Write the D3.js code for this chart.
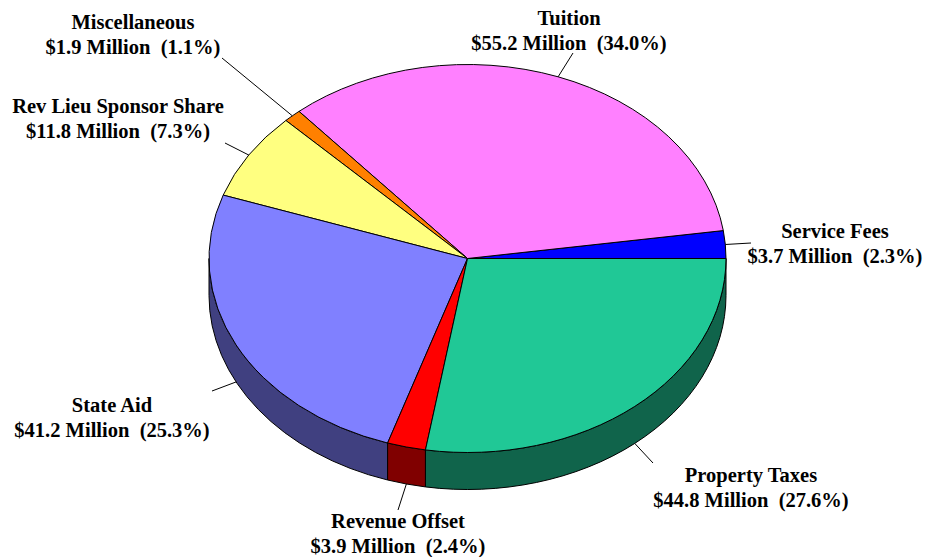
<!DOCTYPE html>
<html><head><meta charset="utf-8">
<script src="https://cdn.jsdelivr.net/npm/d3@7"></script>
<style>body{margin:0;background:#fff}svg{display:block}</style>
</head><body>
<svg id="c" width="927" height="557"></svg>
<script>
const categories = ["Service Fees","Tuition","Miscellaneous","Rev Lieu Sponsor Share","State Aid","Revenue Offset","Property Taxes"];
const millions = [3.7, 55.2, 1.9, 11.8, 41.2, 3.9, 44.8];
const percents = [2.3, 34.0, 1.1, 7.3, 25.3, 2.4, 27.6];
const topColors = ["#0000ff","#ff80ff","#ff8000","#ffff80","#8080ff","#ff0000","#20c896"];
const sideColors = ["#000080","#804080","#804000","#808040","#404080","#800000","#10644b"];
// label layout: text center x, first baseline y, leader end x, leader end y
const labelLayout = [[835,238,751,243],[569,25,573,53],[133,29,222,58],[118,113,225,143],[112,412,212,391],[398,528,398,510],[751,482,653,463]];

const svg = d3.select("#c");
const cx = 467.5, cy = 258.5, rx = 258.5, ry = 194, depth = 37;
const pt = (t, dy) => [cx + rx*Math.cos(t), cy - ry*Math.sin(t) + dy];
const f = p => p[0].toFixed(2) + "," + p[1].toFixed(2);

const arcs = d3.pie().sort(null).value(d => d)(percents);

// side walls (front half)
const walls = svg.append("g");
arcs.forEach((a, i) => {
  const s = Math.max(a.startAngle, Math.PI), e = Math.min(a.endAngle, 2*Math.PI);
  if (s < e) {
    const d = `M${f(pt(s,0))} A${rx},${ry} 0 0 0 ${f(pt(e,0))} L${f(pt(e,depth))} A${rx},${ry} 0 0 1 ${f(pt(s,depth))} Z`;
    walls.append("path").attr("d", d).attr("fill", sideColors[i]).attr("stroke", "#000").attr("stroke-width", 1).attr("stroke-linejoin","round");
  }
});

// top faces
const tops = svg.append("g");
arcs.forEach((a, i) => {
  const large = (a.endAngle - a.startAngle) > Math.PI ? 1 : 0;
  const d = `M${cx},${cy} L${f(pt(a.startAngle,0))} A${rx},${ry} 0 ${large} 0 ${f(pt(a.endAngle,0))} Z`;
  tops.append("path").attr("d", d).attr("fill", topColors[i]).attr("stroke", "#000").attr("stroke-width", 1).attr("stroke-linejoin","round");
});

// labels and leaders
const lg = svg.append("g");
arcs.forEach((a, i) => {
  const m = (a.startAngle + a.endAngle) / 2;
  const p = pt(m, Math.sin(m) < 0 ? depth : 0);
  const L = labelLayout[i];
  lg.append("line").attr("x1", p[0]).attr("y1", p[1]).attr("x2", L[2]).attr("y2", L[3]).attr("stroke", "#000").attr("stroke-width", 1);
  const t = lg.append("text").attr("text-anchor", "middle").attr("font-family", "'Liberation Serif','Times New Roman',serif")
    .attr("font-weight", "bold").attr("font-size", "20.5px").attr("fill", "#000").style("white-space", "pre");
  t.append("tspan").attr("x", L[0]).attr("y", L[1]).text(categories[i]);
  t.append("tspan").attr("x", L[0]).attr("y", L[1] + 24.5).text(`$${millions[i].toFixed(1)} Million  (${percents[i].toFixed(1)}%)`);
});
</script>
</body></html>
